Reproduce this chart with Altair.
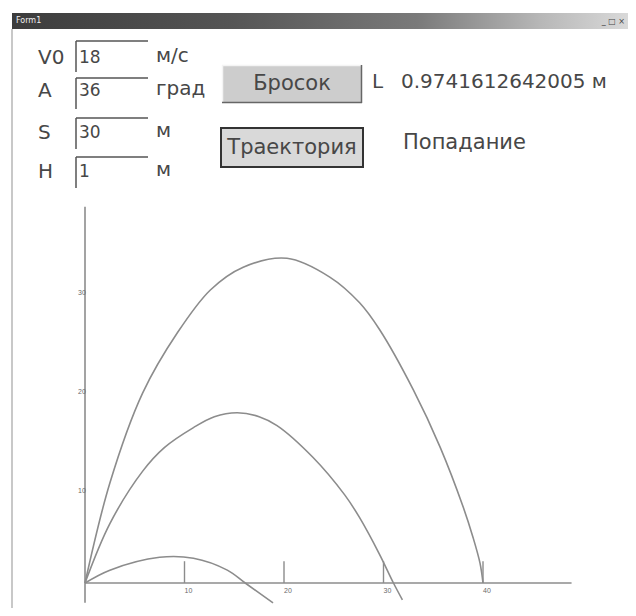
import altair as alt
import pandas as pd

# ---- trajectories (x: metres, y: metres) ----
big_x = [0, 2.5, 5.8, 9.3, 12.6, 15.9, 20.3, 24.6, 27.6, 29.6, 33.0, 35.7, 38.0, 39.0, 39.7, 40.0]
big_y = [0, 10.1, 19.2, 25.3, 29.6, 31.9, 32.8, 30.9, 28.3, 25.6, 19.5, 13.7, 7.7, 4.6, 2.0, 0]
mid_x = [0, 2.5, 5.8, 8.0, 10.9, 13.0, 15.3, 17.5, 19.3, 22.9, 26.1, 27.6, 29.6, 31.0, 31.9]
mid_y = [0, 6.0, 11.3, 13.7, 15.7, 16.8, 17.2, 16.8, 15.9, 12.7, 8.9, 6.6, 2.9, 0, -1.7]
small_x = [0, 2.5, 7.5, 10.9, 14.3, 16.1, 18.9]
small_y = [0, 1.3, 2.6, 2.5, 1.3, 0, -2.0]

x_ticks = [10, 20, 30, 40]
y_ticks = [10, 20, 30]
x_axis_end = 48.9
y_axis_top = 38.0
y_axis_bottom = -2.0

# ---- form texts ----
field_labels = ["V0", "A", "S", "H"]
field_values = ["18", "36", "30", "1"]
field_units = ["м/с", "град", "м", "м"]
button_throw = "Бросок"
button_traj = "Траектория"
result_label = "L"
result_value = "0.9741612642005 м"
result_status = "Попадание"
window_title = "Form1"

rows = []
for name, xs, ys in [("big", big_x, big_y), ("mid", mid_x, mid_y), ("small", small_x, small_y)]:
    for i, (a, b) in enumerate(zip(xs, ys)):
        rows.append({"curve": name, "x": a, "y": b, "o": i})
curves = pd.DataFrame(rows)

XS = alt.Scale(domain=[-7.739, 54.573], nice=False, zero=False)
YS = alt.Scale(domain=[-2.525, 58.08], nice=False, zero=False)

GRAY = "#8c8c8c"
TXT = "#474747"
FONT = "DejaVu Sans"

lines = alt.Chart(curves).mark_line(interpolate="catmull-rom", color=GRAY, strokeWidth=1.6).encode(
    x=alt.X("x:Q", scale=XS, axis=None),
    y=alt.Y("y:Q", scale=YS, axis=None),
    detail="curve:N",
    order="o:Q",
)

axes_df = pd.DataFrame([
    {"x": 0, "x2": x_axis_end, "y": 0, "y2": 0},
    {"x": 0, "x2": 0, "y": y_axis_bottom, "y2": y_axis_top},
])
axes = alt.Chart(axes_df).mark_rule(color=GRAY, strokeWidth=1.6).encode(
    x=alt.X("x:Q", scale=XS, axis=None), x2="x2:Q",
    y=alt.Y("y:Q", scale=YS, axis=None), y2="y2:Q",
)

xt = pd.DataFrame({"v": x_ticks, "lab": [str(v) for v in x_ticks]})
xtick_rules = alt.Chart(xt).transform_calculate(y0="0", y1="2.2").mark_rule(color=GRAY, strokeWidth=1.4).encode(
    x=alt.X("v:Q", scale=XS, axis=None),
    y=alt.Y("y0:Q", scale=YS, axis=None), y2="y1:Q",
)
xtick_labels = alt.Chart(xt).transform_calculate(y0="0").mark_text(
    fontSize=7, color="#6a6a6a", font="Liberation Sans", dx=4, dy=8, align="center", baseline="middle"
).encode(
    x=alt.X("v:Q", scale=XS, axis=None),
    y=alt.Y("y0:Q", scale=YS, axis=None),
    text="lab:N",
)

yt = pd.DataFrame({"v": y_ticks, "lab": [str(v) for v in y_ticks]})
ytick_labels = alt.Chart(yt).transform_calculate(x0="0").mark_text(
    fontSize=7, color="#6a6a6a", font="Liberation Sans", dx=-3, dy=7, align="center", baseline="middle"
).encode(
    x=alt.X("x0:Q", scale=XS, axis=None),
    y=alt.Y("v:Q", scale=YS, axis=None),
    text="lab:N",
)

one = alt.Data(values=[{"k": 1}])


def txt(s, x, y, size=20, color=TXT, align="left"):
    return alt.Chart(alt.Data(values=[{"t": s}])).mark_text(
        align=align, baseline="middle", fontSize=size, font=FONT, color=color
    ).encode(x=alt.value(x - 8), y=alt.value(y - 8), text="t:N")


def rect(x1, x2, y1, y2, fill, stroke=None, sw=1):
    kw = dict(fill=fill)
    if stroke is not None:
        kw.update(stroke=stroke, strokeWidth=sw)
    return alt.Chart(one).mark_rect(**kw).encode(
        x=alt.value(x1 - 8), x2=alt.value(x2 - 8), y=alt.value(y1 - 8), y2=alt.value(y2 - 8)
    )


def hline(x1, x2, y, color, w=1.5):
    return alt.Chart(one).mark_rule(color=color, strokeWidth=w).encode(
        x=alt.value(x1 - 8), x2=alt.value(x2 - 8), y=alt.value(y - 8)
    )


def vline(x, y1, y2, color, w=1.5):
    return alt.Chart(one).mark_rule(color=color, strokeWidth=w).encode(
        x=alt.value(x - 8), y=alt.value(y1 - 8), y2=alt.value(y2 - 8)
    )


ui = []
# title bar
title_grad = alt.Gradient(
    gradient="linear", x1=0, x2=1, y1=0, y2=0,
    stops=[
        alt.GradientStop(color="#3c3c3c", offset=0),
        alt.GradientStop(color="#555555", offset=0.35),
        alt.GradientStop(color="#7a7a7a", offset=0.65),
        alt.GradientStop(color="#b8b8b8", offset=0.85),
        alt.GradientStop(color="#dcdcdc", offset=1),
    ],
)
ui.append(alt.Chart(one).mark_rect(color=title_grad).encode(
    x=alt.value(12 - 8), x2=alt.value(636 - 8), y=alt.value(13 - 8), y2=alt.value(29 - 8)))
ui.append(txt(window_title, 16, 21, size=8, color="#f0f0f0"))
ui.append(txt("_ □ ×", 625, 22, size=8, color="#444444", align="right"))
# window border
ui.append(vline(12, 29, 616, "#c8c8c8", 2))

# fields
rows_y = [58, 91, 133, 172]
box_top = [41, 78, 118, 157]
for lab, val, unit, yy, bt in zip(field_labels, field_values, field_units, rows_y, box_top):
    ui.append(txt(lab, 38, yy, size=20))
    ui.append(hline(76, 148, bt, "#555555", 1.5))
    ui.append(vline(76, bt, bt + 31, "#555555", 1.5))
    ui.append(txt(val, 79, yy, size=17))
    ui.append(txt(unit, 156, yy - 2, size=20))

# buttons
ui.append(rect(222, 362, 65, 103, "#cdcdcd"))
ui.append(hline(222, 362, 65.5, "#f4f4f4", 1.5))
ui.append(vline(222.5, 65, 103, "#f4f4f4", 1.5))
ui.append(hline(222, 362, 102.5, "#666666", 1.5))
ui.append(vline(361.5, 65, 103, "#666666", 1.5))
ui.append(txt(button_throw, 292, 84, size=21, align="center"))

ui.append(rect(221, 363, 128, 167, "#d9d9d9", stroke="#333333", sw=2))
ui.append(txt(button_traj, 292, 148, size=21, align="center"))

ui.append(txt(result_label, 372, 82, size=20))
ui.append(txt(result_value, 401, 82, size=20))
ui.append(txt(result_status, 403, 143, size=21))

chart = alt.layer(
    axes, xtick_rules, xtick_labels, ytick_labels, lines, *ui
).properties(
    width=620, height=600,
    autosize=alt.AutoSizeParams(type="none"),
    padding=0,
    background="#ffffff",
).configure_view(strokeWidth=0)

chart.save("out.html", embed_options={"renderer": "svg", "actions": False})
